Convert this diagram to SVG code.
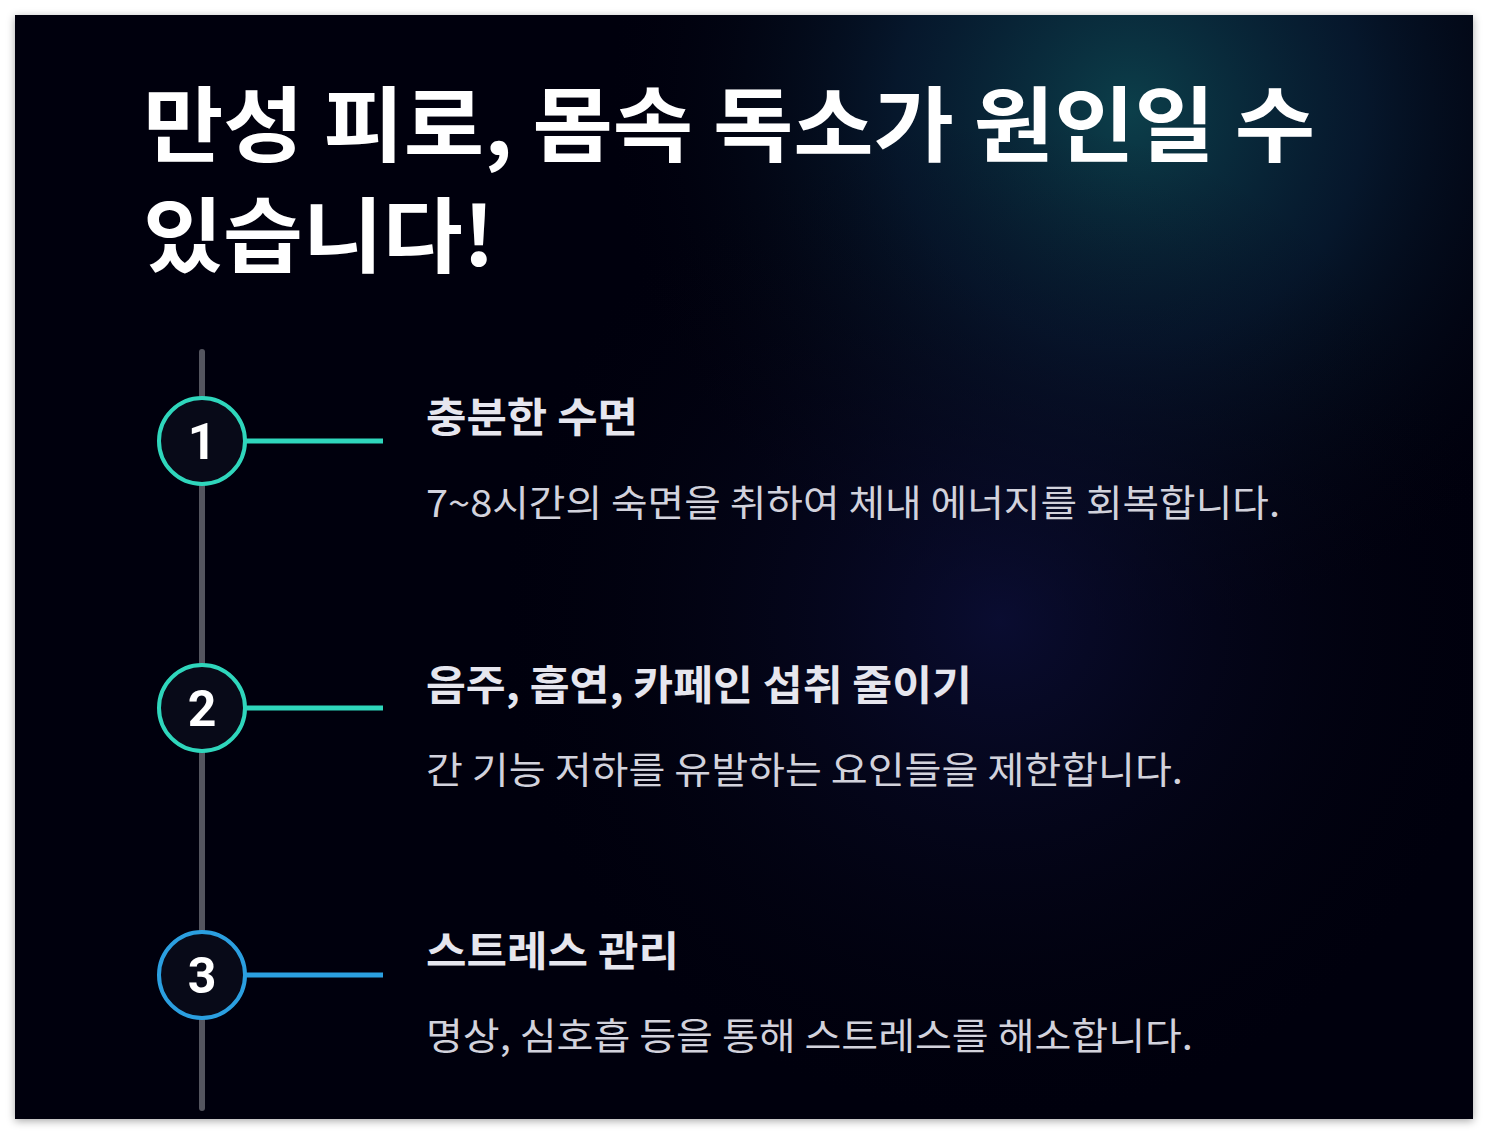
<svg xmlns="http://www.w3.org/2000/svg" width="1488" height="1134" viewBox="0 0 1488 1134">
<defs>
<radialGradient id="glow" cx="1130" cy="110" r="520" gradientUnits="userSpaceOnUse">
<stop offset="0" stop-color="#0e4a55" stop-opacity="0.85"/>
<stop offset="0.45" stop-color="#0b2a45" stop-opacity="0.55"/>
<stop offset="1" stop-color="#05060f" stop-opacity="0"/>
</radialGradient>
<radialGradient id="glow2" cx="1000" cy="620" r="500" gradientUnits="userSpaceOnUse">
<stop offset="0" stop-color="#0e1240" stop-opacity="0.7"/>
<stop offset="1" stop-color="#05060f" stop-opacity="0"/>
</radialGradient>
<filter id="sh" x="-5%" y="-5%" width="110%" height="110%"><feDropShadow dx="0" dy="2" stdDeviation="4" flood-opacity="0.35"/></filter>
<style>
.title{font-family:"Noto Sans CJK KR","Noto Sans",sans-serif;font-weight:700;font-size:82px;fill:#ffffff}
.h{font-family:"Noto Sans CJK KR","Noto Sans",sans-serif;font-weight:700;font-size:41px;fill:#e6e6ee}
.d{font-family:"Noto Sans CJK KR","Noto Sans",sans-serif;font-size:37px;fill:#d2d2dc}
.num{font-family:"Roboto","Noto Sans",sans-serif;font-weight:700;font-size:50px;fill:#ffffff}
.c{fill:#080a18;stroke-width:4}
.teal{stroke:#2fd6bc}
.blue{stroke:#2b9fe0}
</style>
</defs>
<rect width="1488" height="1134" fill="#ffffff"/>
<rect x="15" y="15" width="1458" height="1104" fill="#05060f" filter="url(#sh)"/>
<rect x="15" y="15" width="1458" height="1104" fill="url(#glow)"/>
<rect x="15" y="15" width="1458" height="1104" fill="url(#glow2)"/>
<g id="title">
<text class="title" x="143" y="155" textLength="1172" lengthAdjust="spacingAndGlyphs">만성 피로, 몸속 독소가 원인일 수</text>
<text class="title" x="143" y="266" textLength="352" lengthAdjust="spacingAndGlyphs">있습니다!</text>
</g>
<g id="connectors">
<line x1="202" y1="352" x2="202" y2="1108" stroke="#54555f" stroke-width="6" stroke-linecap="round"/>
<line x1="245" y1="441" x2="383" y2="441" stroke="#2fd6bc" stroke-width="5"/>
<line x1="245" y1="708" x2="383" y2="708" stroke="#2fd6bc" stroke-width="5"/>
<line x1="245" y1="975" x2="383" y2="975" stroke="#2b9fe0" stroke-width="5"/>
</g>
<g id="step1">
<circle class="c teal" cx="202" cy="441" r="43"/>
<text class="num" x="202" y="459" text-anchor="middle">1</text>
<text class="h" x="426" y="432" textLength="212" lengthAdjust="spacingAndGlyphs">충분한 수면</text>
<text class="d" x="426" y="517" textLength="854" lengthAdjust="spacingAndGlyphs">7~8시간의 숙면을 취하여 체내 에너지를 회복합니다.</text>
</g>
<g id="step2">
<circle class="c teal" cx="202" cy="708" r="43"/>
<text class="num" x="202" y="726" text-anchor="middle">2</text>
<text class="h" x="426" y="700" textLength="546" lengthAdjust="spacingAndGlyphs">음주, 흡연, 카페인 섭취 줄이기</text>
<text class="d" x="426" y="784" textLength="757" lengthAdjust="spacingAndGlyphs">간 기능 저하를 유발하는 요인들을 제한합니다.</text>
</g>
<g id="step3">
<circle class="c blue" cx="202" cy="975" r="43"/>
<text class="num" x="202" y="993" text-anchor="middle">3</text>
<text class="h" x="426" y="966" textLength="253" lengthAdjust="spacingAndGlyphs">스트레스 관리</text>
<text class="d" x="426" y="1050" textLength="767" lengthAdjust="spacingAndGlyphs">명상, 심호흡 등을 통해 스트레스를 해소합니다.</text>
</g>
</svg>
